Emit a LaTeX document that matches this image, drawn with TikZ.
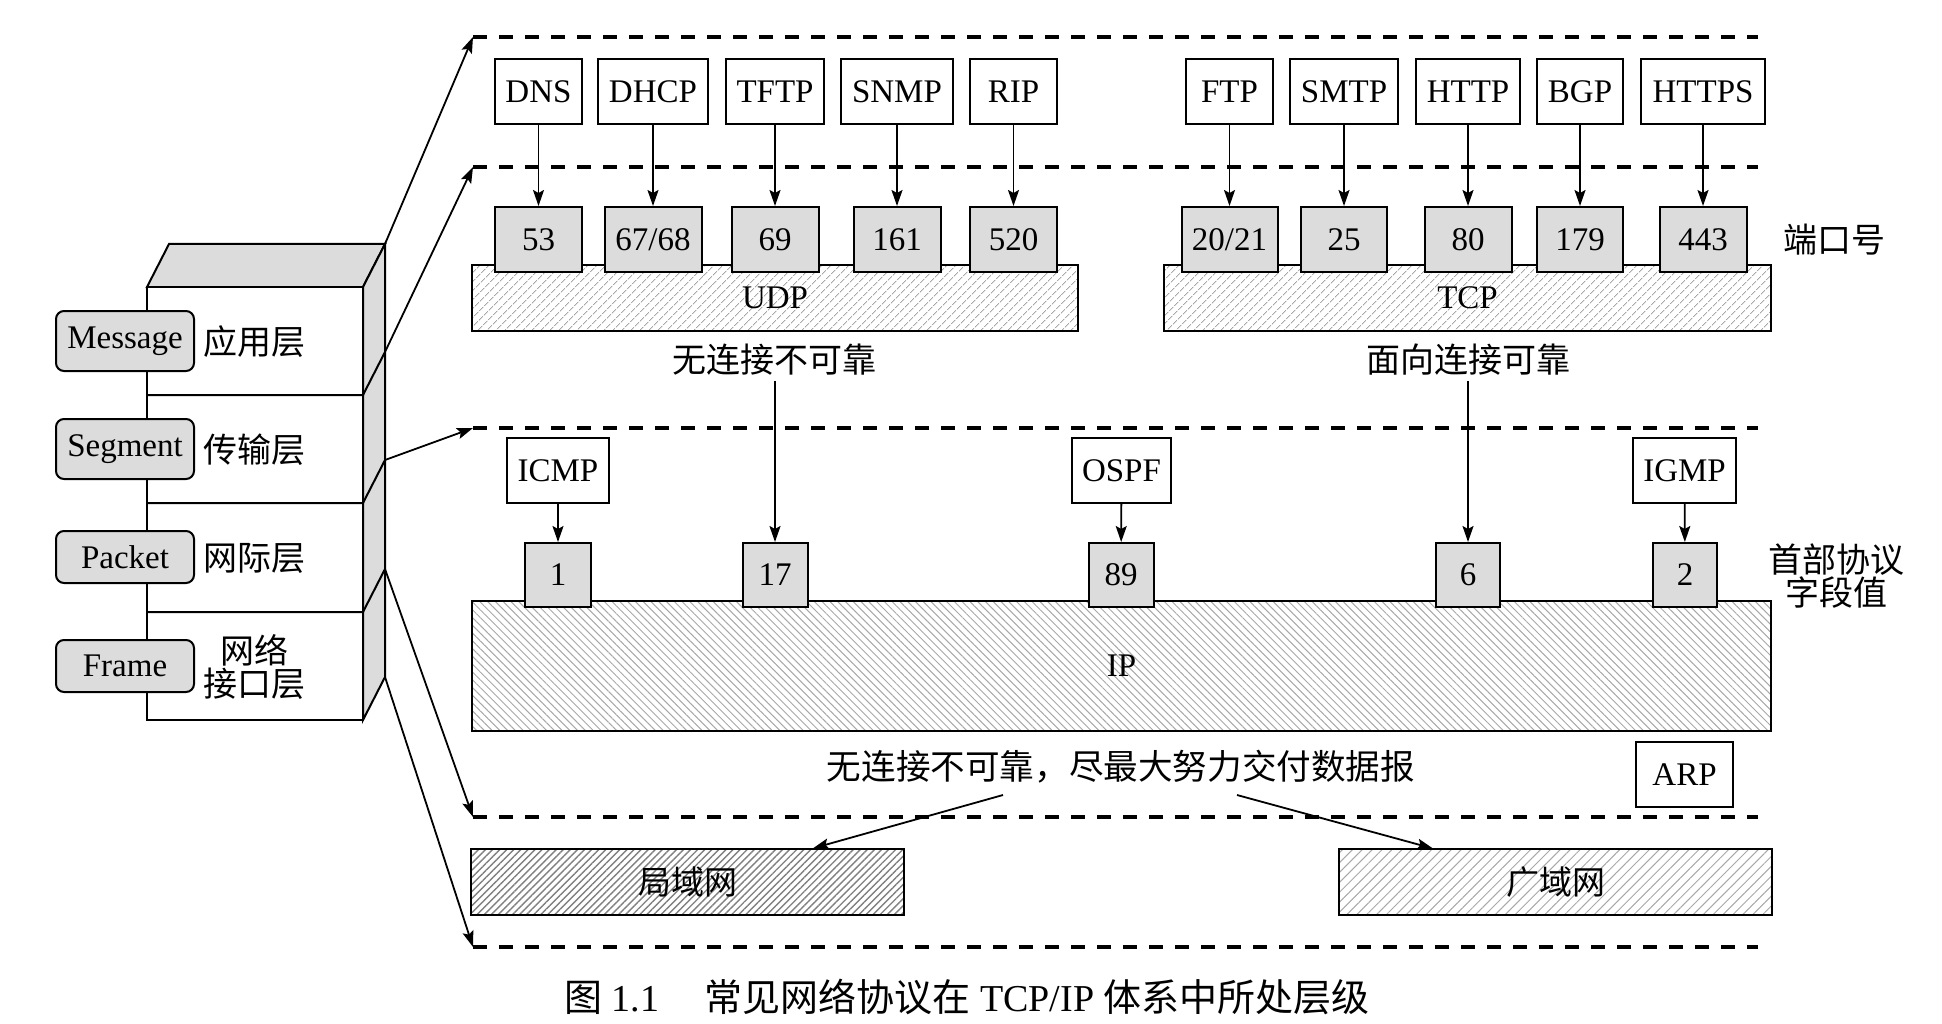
\documentclass[tikz,border=0pt]{standalone}
\usepackage{fontspec}
\setmainfont{Liberation Serif}
\newfontfamily\cjk{Noto Sans CJK SC}
\usetikzlibrary{arrows.meta,patterns.meta,calc}
\definecolor{boxgray}{HTML}{DCDCDC}
\definecolor{hatchgray}{HTML}{A8A8A8}
\begin{document}
\begin{tikzpicture}[x=1pt,y=-1pt,
  font=\fontsize{33}{36}\selectfont,
  pbox/.style={draw, line width=2pt, fill=white, inner sep=0pt, minimum height=65pt},
  port/.style={pbox, fill=boxgray},
  lab/.style={draw, line width=2pt, fill=boxgray, rounded corners=8pt, inner sep=0pt, minimum width=138pt},
  arr/.style={-{Stealth[length=16pt,width=11pt,inset=3pt]}, line width=1.8pt},
  dline/.style={line width=3.5pt, dash pattern=on 14pt off 12pt},
  txt/.style={inner sep=0pt},
  cn/.style={inner sep=0pt, font=\fontsize{34}{33}\selectfont\cjk},
  udph/.style={pattern={Lines[angle=45,distance=6.5pt,line width=1pt]}, pattern color=hatchgray},
  iph/.style={pattern={Lines[angle=-45,distance=5.5pt,line width=1pt]}, pattern color=hatchgray},
  lanh/.style={pattern={Lines[angle=45,distance=5pt,line width=1.4pt]}, pattern color=gray},
  wanh/.style={pattern={Lines[angle=45,distance=7pt,line width=1pt]}, pattern color=hatchgray},
  band/.style={draw, line width=2pt, inner sep=0pt}
]
\useasboundingbox (0,0) rectangle (1942,1024);

% ---------- left stack ----------
\draw[line width=2pt, fill=boxgray] (147,287) -- (169,244) -- (385,244) -- (363,287) -- cycle;
\draw[line width=2pt, fill=boxgray] (363,287) -- (385,244) -- (385,677) -- (363,720) -- cycle;
\draw[line width=2pt, fill=white] (147,287) rectangle (363,720);
\draw[line width=2pt] (147,395) -- (363,395) -- (385,352);
\draw[line width=2pt] (147,503) -- (363,503) -- (385,460);
\draw[line width=2pt] (147,612) -- (363,612) -- (385,569);
\coordinate (s0) at (385,244);
\coordinate (s1) at (385,352);
\coordinate (s2) at (385,460);
\coordinate (s3) at (385,569);
\coordinate (s4) at (385,677);

\node[lab, minimum height=60pt] (msg) at (125,341) {Message};
\node[lab, minimum height=60pt] (seg) at (125,449) {Segment};
\node[lab, minimum height=52pt] (pkt) at (125,557) {Packet};
\node[lab, minimum height=52pt] (frm) at (125,666) {Frame};
\node[cn] (lapp) at (254,342) {应用层};
\node[cn] (ltra) at (254,450) {传输层};
\node[cn] (lnet) at (254,558) {网际层};
\node[cn, align=center] (llnk) at (254,667) {网络\\接口层};

% ---------- dashed separators ----------
\foreach \i/\yy in {1/37,2/167,3/428,4/817,5/947}{
  \coordinate (L\i) at (473,\yy);
  \coordinate (R\i) at (1758,\yy);
  \draw[dline] (L\i) -- (R\i);
}
\draw[arr] (s0) -- (L1);
\draw[arr] (s1) -- (L2);
\draw[arr] (s2) -- (L3);
\draw[arr] (s3) -- (L4);
\draw[arr] (s4) -- (L5);

% ---------- transport layer ----------
\node[band, udph, minimum width=606pt, minimum height=66pt] (udp) at (775,298) {UDP};
\node[band, udph, minimum width=607pt, minimum height=66pt] (tcp) at (1467.5,298) {TCP};

% application protocols
\node[pbox, minimum width=87pt]  (dns)   at (538.5,91.5) {DNS};
\node[pbox, minimum width=110pt] (dhcp)  at (653,91.5)   {DHCP};
\node[pbox, minimum width=98pt]  (tftp)  at (775,91.5)   {TFTP};
\node[pbox, minimum width=112pt] (snmp)  at (897,91.5)   {SNMP};
\node[pbox, minimum width=87pt]  (rip)   at (1013.5,91.5) {RIP};
\node[pbox, minimum width=87pt]  (ftp)   at (1229.5,91.5) {FTP};
\node[pbox, minimum width=108pt] (smtp)  at (1344,91.5)  {SMTP};
\node[pbox, minimum width=104pt] (http)  at (1468,91.5)  {HTTP};
\node[pbox, minimum width=86pt]  (bgp)   at (1580,91.5)  {BGP};
\node[pbox, minimum width=124pt] (https) at (1703,91.5)  {HTTPS};

% ports
\node[port, minimum width=87pt] (p53)  at (538.5,239.5) {53};
\node[port, minimum width=97pt] (p67)  at (653,239.5)   {67/68};
\node[port, minimum width=87pt] (p69)  at (775,239.5)   {69};
\node[port, minimum width=87pt] (p161) at (897,239.5)   {161};
\node[port, minimum width=87pt] (p520) at (1013.5,239.5) {520};
\node[port, minimum width=96pt] (p20)  at (1229.5,239.5) {20/21};
\node[port, minimum width=86pt] (p25)  at (1344,239.5)  {25};
\node[port, minimum width=87pt] (p80)  at (1468,239.5)  {80};
\node[port, minimum width=86pt] (p179) at (1580,239.5)  {179};
\node[port, minimum width=87pt] (p443) at (1703,239.5)  {443};

\foreach \a/\b in {dns/p53,dhcp/p67,tftp/p69,snmp/p161,rip/p520,ftp/p20,smtp/p25,http/p80,bgp/p179,https/p443}
  \draw[arr] (\a) -- (\b);

\node[cn] (portlbl) at (1834,240) {端口号};
\node[cn, inner sep=5pt] (udpnote) at (774,360) {无连接不可靠};
\node[cn, inner sep=5pt] (tcpnote) at (1468,360) {面向连接可靠};

% ---------- network layer ----------
\node[band, iph, minimum width=1299pt, minimum height=130pt] (ip) at (1121.5,666) {IP};

\node[pbox, minimum width=102pt] (icmp) at (558,470.5)   {ICMP};
\node[pbox, minimum width=99pt]  (ospf) at (1121.5,470.5) {OSPF};
\node[pbox, minimum width=103pt] (igmp) at (1684.5,470.5) {IGMP};

\node[port, minimum width=66pt, minimum height=64pt] (n1)  at (558,575)  {1};
\node[port, minimum width=65pt, minimum height=64pt] (n17) at (775,575)  {17};
\node[port, minimum width=65pt, minimum height=64pt] (n89) at (1121,575) {89};
\node[port, minimum width=64pt, minimum height=64pt] (n6)  at (1468,575) {6};
\node[port, minimum width=64pt, minimum height=64pt] (n2)  at (1685,575) {2};

\draw[arr] (icmp) -- (n1);
\draw[arr] (ospf) -- (n89);
\draw[arr] (igmp) -- (n2);
\draw[arr] (n17.north |- udpnote.south) -- (n17.north);
\draw[arr] (n6.north |- tcpnote.south) -- (n6.north);

\node[cn, align=center] (hdr) at (1836,576) {首部协议\\字段值};

\node[cn, font=\fontsize{34.6}{33}\selectfont\cjk] (ipnote) at (1121,767) {无连接不可靠，尽最大努力交付数据报};
\node[pbox, minimum width=97pt] (arp) at (1684.5,774.5) {ARP};

% ---------- link layer ----------
\node[band, lanh, minimum width=433pt, minimum height=66pt] (lan) at (687.5,882) {\cjk 局域网};
\node[band, wanh, minimum width=433pt, minimum height=66pt] (wan) at (1555.5,882) {\cjk 广域网};

\coordinate (c1) at (1003,795);
\coordinate (c2) at (1237,795);
\draw[arr] (c1) -- ($(lan.north)+(125.5,0)$);
\draw[arr] (c2) -- ($(wan.north)+(-122.5,0)$);

% ---------- caption ----------
\node[txt, font=\fontsize{38}{40}\selectfont] (cap) at (967,997) {{\cjk 图} 1.1\hspace{1.2em}{\cjk 常见网络协议在} TCP/IP {\cjk 体系中所处层级}};
\end{tikzpicture}
\end{document}
